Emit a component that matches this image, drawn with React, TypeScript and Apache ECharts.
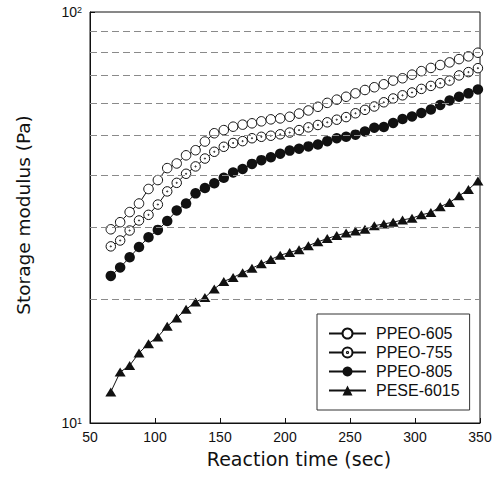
import React, { useEffect, useRef } from 'react';
import * as echarts from 'echarts';

// Reaction time (sec) for every sample point
const time = [66.0, 73.2, 80.5, 87.7, 95.0, 102.2, 109.4, 116.7, 123.9, 131.2, 138.4, 145.6, 152.9, 160.1, 167.4, 174.6, 181.8, 189.1, 196.3, 203.6, 210.8, 218.0, 225.3, 232.5, 239.8, 247.0, 254.2, 261.5, 268.7, 276.0, 283.2, 290.4, 297.7, 304.9, 312.2, 319.4, 326.6, 333.9, 341.1, 348.4];

// Storage modulus (Pa)
const ppeo605 = [29.6, 30.8, 32.6, 34.2, 37.1, 39.0, 41.7, 42.8, 44.8, 46.1, 48.4, 50.7, 51.6, 52.6, 53.2, 53.6, 54.2, 54.8, 55.1, 55.6, 56.6, 57.6, 58.8, 60.1, 61.2, 62.2, 63.4, 64.6, 65.6, 66.7, 68.1, 69.0, 70.4, 71.8, 73.1, 74.3, 75.4, 76.8, 78.0, 79.6];
const ppeo755 = [26.9, 27.8, 29.4, 31.1, 32.1, 34.0, 36.6, 38.4, 40.4, 42.1, 44.0, 45.7, 47.0, 48.0, 48.5, 49.3, 49.7, 50.0, 50.4, 50.9, 51.6, 52.4, 53.1, 53.9, 54.7, 55.5, 56.7, 57.8, 58.9, 60.3, 61.6, 62.7, 63.7, 65.0, 66.1, 67.1, 68.1, 70.1, 71.4, 73.0];
const ppeo805 = [22.8, 23.9, 25.3, 26.8, 28.3, 29.5, 31.0, 32.9, 34.2, 36.2, 37.3, 38.3, 39.5, 40.7, 41.5, 42.7, 43.6, 44.3, 45.2, 46.0, 46.5, 47.1, 47.6, 48.5, 49.3, 49.7, 50.3, 51.2, 52.3, 52.5, 53.7, 54.9, 55.7, 56.8, 57.9, 59.4, 60.9, 62.2, 63.4, 64.8];
const pese6015 = [11.9, 13.3, 13.8, 14.8, 15.6, 16.2, 17.2, 18.0, 18.9, 19.7, 20.2, 21.2, 22.1, 22.6, 23.2, 23.8, 24.4, 25.0, 25.6, 26.0, 26.4, 27.0, 27.6, 28.1, 28.6, 29.0, 29.3, 29.6, 30.2, 30.5, 30.8, 31.2, 31.5, 32.1, 32.5, 33.6, 34.4, 35.7, 37.0, 38.8];

const seriesNames = ['PPEO-605', 'PPEO-755', 'PPEO-805', 'PESE-6015'];
const yTickValues = [10, 20, 30, 40, 50, 60, 70, 80, 90, 100];
const gridValues = [20, 30, 40, 50, 60, 70, 80, 90];

const INK = '#111';
const dotCircle =
  'path://M0,-10A10,10,0,1,1,0,10A10,10,0,1,1,0,-10ZM0,-1.2A1.2,1.2,0,1,1,0,1.2A1.2,1.2,0,1,1,0,-1.2Z';

export default function App() {
  const ref = useRef<HTMLDivElement>(null);
  useEffect(() => {
    const chart = echarts.init(ref.current!, null, { renderer: 'svg' });
    const pair = (ys: number[]) => time.map((t, i) => [t, ys[i]]);
    const line = { color: INK, width: 1 };
    chart.setOption({
      animation: false,
      backgroundColor: '#fff',
      grid: { left: 90, right: 18, top: 12, bottom: 58, show: true, borderColor: INK, borderWidth: 1 },
      legend: {
        orient: 'vertical',
        left: 317,
        top: 314,
        padding: [11.5, 10, 11.5, 11],
        itemGap: 3,
        itemWidth: 37,
        itemHeight: 12.5,
        borderColor: '#333',
        borderWidth: 1,
        data: seriesNames,
        textStyle: { fontFamily: 'Liberation Sans', fontSize: 16, lineHeight: 16, color: INK, padding: [0, 0, 0, 5] },
      },
      xAxis: {
        type: 'value',
        min: 50,
        max: 350,
        interval: 50,
        axisLine: { show: true, lineStyle: { color: INK } },
        axisTick: { show: true, inside: true, length: 5, lineStyle: { color: INK } },
        axisLabel: { fontFamily: 'Liberation Sans', fontSize: 14, color: INK, margin: 7 },
        splitLine: { show: false },
        name: 'Reaction time (sec)',
        nameLocation: 'middle',
        nameGap: 26,
        nameTextStyle: { fontFamily: 'DejaVu Sans', fontSize: 19, color: INK, padding: [0, 0, 0, 28] },
      },
      yAxis: {
        type: 'log',
        logBase: 10,
        min: 10,
        max: 100,
        axisLine: { show: true, lineStyle: { color: INK } },
        axisTick: { show: true, inside: true, length: 5, customValues: yTickValues, lineStyle: { color: INK } },
        axisLabel: {
          margin: 8,
          formatter: (v: number) => `{b|10}{s|${Math.round(Math.log10(v))}}`,
          rich: {
            b: { fontFamily: 'Liberation Sans', fontSize: 14, color: INK },
            s: { fontFamily: 'Liberation Sans', fontSize: 9, color: INK, verticalAlign: 'top' },
          },
        },
        splitLine: { show: false },
        name: 'Storage modulus (Pa)',
        nameLocation: 'middle',
        nameRotate: 90,
        nameGap: 57,
        nameTextStyle: { fontFamily: 'DejaVu Sans', fontSize: 18.5, color: INK, padding: [0, 0, 0, 5] },
      },
      series: [
        {
          name: seriesNames[0],
          type: 'line',
          data: pair(ppeo605),
          symbol: 'circle',
          symbolSize: 9.5,
          itemStyle: { color: '#fff', borderColor: INK, borderWidth: 1 },
          lineStyle: line,
        },
        {
          name: seriesNames[1],
          type: 'line',
          data: pair(ppeo755),
          symbol: dotCircle,
          symbolSize: 9.5,
          itemStyle: { color: '#fff', borderColor: INK, borderWidth: 1 },
          lineStyle: line,
        },
        {
          name: seriesNames[2],
          type: 'line',
          data: pair(ppeo805),
          symbol: 'circle',
          symbolSize: 10.5,
          itemStyle: { color: INK, borderColor: INK, borderWidth: 0 },
          lineStyle: line,
        },
        {
          name: seriesNames[3],
          type: 'line',
          data: pair(pese6015),
          symbol: 'triangle',
          symbolSize: [11, 9],
          itemStyle: { color: INK, borderWidth: 0 },
          lineStyle: line,
          markLine: {
            silent: true,
            symbol: ['none', 'none'],
            label: { show: false },
            lineStyle: { color: '#8a8a8a', type: [7, 4], width: 1 },
            data: gridValues.map((v) => ({ yAxis: v })),
          },
        },
      ],
    });
    return () => chart.dispose();
  }, []);
  return <div ref={ref} style={{ position: 'absolute', left: 0, top: 0, width: 498, height: 481 }} />;
}
